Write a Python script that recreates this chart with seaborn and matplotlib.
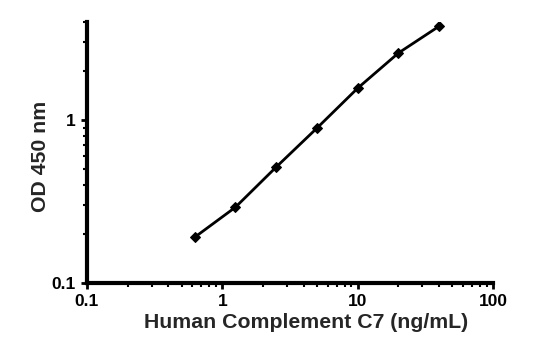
import matplotlib
matplotlib.use("Agg")
import matplotlib.pyplot as plt
import matplotlib.ticker as mticker
import seaborn as sns
import pandas as pd

conc = [0.625, 1.25, 2.5, 5, 10, 20, 40]
od = [0.191, 0.292, 0.515, 0.893, 1.57, 2.58, 3.77]
x_ticks = [0.1, 1, 10, 100]
x_tick_labels = ["0.1", "1", "10", "100"]
y_ticks = [0.1, 1]
y_tick_labels = ["0.1", "1"]

sns.set_style("white")
plt.rcParams['font.family'] = ['Liberation Sans', 'DejaVu Sans']

df = pd.DataFrame({"conc": conc, "od": od})

fig = plt.figure(figsize=(5.59, 3.41), dpi=100)
ax = fig.add_axes([0.1556, 0.170, 0.7264, 0.7655])
sns.lineplot(data=df, x="conc", y="od", ax=ax, color="black", linewidth=2,
             marker="D", markersize=5, markeredgecolor="black")
ax.set_xscale("log")
ax.set_yscale("log")
ax.set_xlim(0.1, 100)
ax.set_ylim(0.1, 4)

ax.xaxis.set_major_locator(mticker.FixedLocator(x_ticks))
ax.xaxis.set_major_formatter(mticker.FixedFormatter(x_tick_labels))
ax.yaxis.set_major_locator(mticker.FixedLocator(y_ticks))
ax.yaxis.set_major_formatter(mticker.FixedFormatter(y_tick_labels))
ax.xaxis.set_minor_locator(mticker.LogLocator(base=10, subs=range(2, 10)))
ax.yaxis.set_minor_locator(mticker.LogLocator(base=10, subs=range(2, 10)))
ax.xaxis.set_minor_formatter(mticker.NullFormatter())
ax.yaxis.set_minor_formatter(mticker.NullFormatter())

for s in ["top", "right"]:
    ax.spines[s].set_visible(False)
for s in ["left", "bottom"]:
    ax.spines[s].set_linewidth(3)
    ax.spines[s].set_color("black")

ax.tick_params(which="major", direction="out", length=4, width=2, colors="black",
               labelsize=12.5, pad=4, left=True, bottom=True)
ax.tick_params(which="minor", direction="out", length=3, width=1.5, colors="black",
               left=True, bottom=True)
for lab in ax.get_xticklabels() + ax.get_yticklabels():
    lab.set_fontweight("bold")

ax.set_xlabel("Human Complement C7 (ng/mL)", fontsize=15.3, fontweight="bold")
ax.set_ylabel("OD 450 nm", fontsize=15.3, fontweight="bold")
ax.xaxis.set_label_coords(0.539, -0.115)
ax.yaxis.set_label_coords(-0.092, 0.485)
ax.grid(False)

fig.savefig("out.png", dpi=100)
